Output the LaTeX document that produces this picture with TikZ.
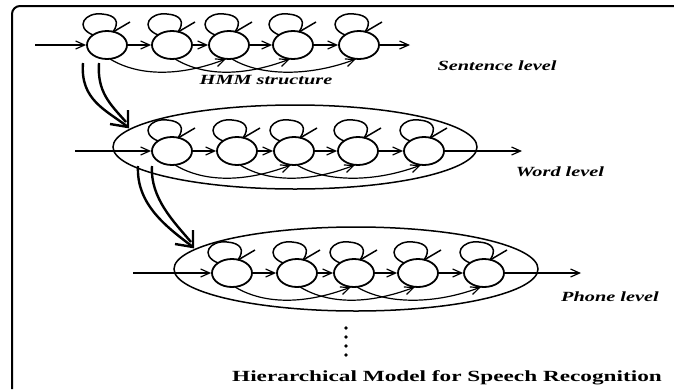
\documentclass[tikz,border=0pt]{standalone}
\usepackage{fontspec}
\setmainfont{Liberation Serif}
\usepackage{graphicx}
\usetikzlibrary{shapes.geometric,arrows.meta,calc}
\begin{document}
\begin{tikzpicture}[x=1pt,y=-1pt,
  state/.style={ellipse,draw,line width=1.8pt,minimum width=40pt,minimum height=28pt,inner sep=0pt},
  levelbox/.style={ellipse,draw,line width=1.5pt,minimum width=364pt,minimum height=84pt,inner sep=0pt},
  conn/.style={line width=1.2pt,-{Straight Barb[length=9pt,width=8pt]}},
  loopc/.style={line width=1.5pt},
  skipc/.style={line width=1.2pt,-{Straight Barb[length=9pt,width=8pt]}},
  dbl/.style={line width=2.4pt},
  lbl/.style={font=\fontsize{14}{16}\selectfont\bfseries\itshape,inner sep=0pt},
  ttl/.style={font=\fontsize{15.5}{18}\selectfont\bfseries,inner sep=0pt}]
\useasboundingbox (0,0) rectangle (674,389);
% frame (top and left sides)
\draw[line width=2pt,rounded corners=8pt] (674,6) -- (12,6) -- (12,389);

% level ellipses
\node[levelbox] (wordbox) at (295,147) {};
\node[levelbox] (phonebox) at (356,269) {};

% states
\foreach \i/\x in {1/107,2/172,3/229,4/293,5/359}{
  \node[state] (s\i) at (\x,45) {};
  \node[state] (w\i) at (\x+65,151) {};
  \node[state] (p\i) at (\x+125,273) {};
}

% free ends
\coordinate (sin) at (35,45);   \coordinate (sout) at (410,45);
\coordinate (win) at (75,151);  \coordinate (wout) at (522,151);
\coordinate (pin) at (133,273); \coordinate (pout) at (581,273);

\foreach \r in {s,w,p}{
  \draw[conn] (\r in) -- (\r1.west);
  \draw[conn] (\r5.east) -- (\r out);
  \foreach \a/\b in {1/2,2/3,3/4,4/5}{
    \draw[conn] (\r\a.east) -- (\r\b.west);
  }
  \foreach \a/\b in {1/3,2/4,3/5}{
    \draw[skipc] ($(\r\a)+(3,14)$) .. controls +(30,18) and +(-45,17) .. ($(\r\b)+(-3,14)$);
  }
  \foreach \a in {1,...,5}{
    % self loop with open barb arrowhead
    \draw[loopc] ($(\r\a)+(-14,-10)$) .. controls ($(\r\a)+(-33,-18)$) and ($(\r\a)+(-22,-33)$) .. ($(\r\a)+(-5,-31)$)
      .. controls ($(\r\a)+(9,-30)$) and ($(\r\a)+(13,-23)$) .. ($(\r\a)+(6,-13)$);
    \draw[loopc] ($(\r\a)+(6,-13)$) -- ($(\r\a)+(23,-23)$);
  }
}

% double (hollow) arrows between levels
\coordinate (t1) at (128,127);
\coordinate (t2) at (193,247);
\draw[dbl] (83,63) .. controls (80,100) and (106,110) .. (t1);
\draw[dbl] (99,63) .. controls (97,92) and (110,104) .. ($(t1)+(-2,-5)$);
\draw[dbl] ($(t1)+(0,-17)$) -- (t1) -- ($(t1)+(-18,-3)$);
\draw[dbl] (138,166) .. controls (136,205) and (168,228) .. (t2);
\draw[dbl] (152,166) .. controls (150,198) and (174,222) .. ($(t2)+(-2,-5)$);
\draw[dbl] ($(t2)+(0,-17)$) -- (t2) -- ($(t2)+(-18,-3)$);

% continuation dots
\foreach \y in {328,337,346,355}{
  \fill (346,\y) circle (1.8pt);
}

% labels
\node[lbl] (hmm) at (266,80) {\scalebox{1.45}[1]{HMM structure}};
\node[lbl] (sent) at (497,66) {\scalebox{1.45}[1]{Sentence level}};
\node[lbl] (word) at (560,172) {\scalebox{1.45}[1]{Word level}};
\node[lbl] (phone) at (610,297) {\scalebox{1.45}[1]{Phone level}};
\node[ttl] (title) at (447,378) {\scalebox{1.5}[1]{Hierarchical Model for Speech Recognition}};
\end{tikzpicture}
\end{document}
